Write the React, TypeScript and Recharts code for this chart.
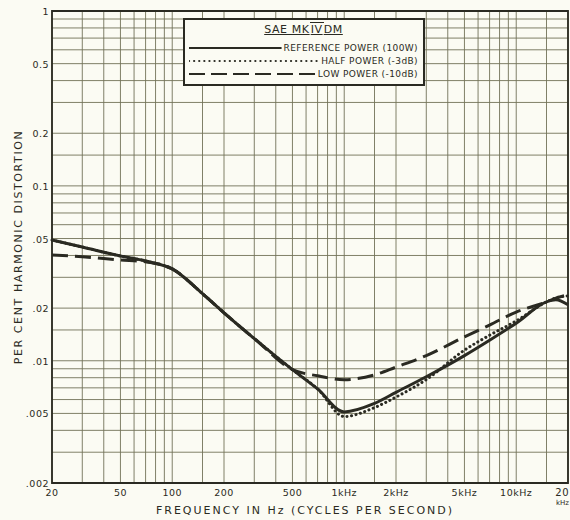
import {
  CartesianGrid,
  Label,
  Line,
  LineChart,
  ReferenceArea,
  XAxis,
  YAxis,
} from 'recharts'

const frequencies = [20, 30, 50, 70, 100, 150, 200, 300, 500, 700, 1000, 1500, 2000, 3000, 5000, 7000, 10000, 15000, 17000, 20000]

// Per cent THD, reference power (100W) - solid
const referencePower = [0.049, 0.0447, 0.0397, 0.0372, 0.0335, 0.0242, 0.0188, 0.0134, 0.0089, 0.0069, 0.0051, 0.0057, 0.0066, 0.0081, 0.0107, 0.0131, 0.0164, 0.0217, 0.0223, 0.0209]
// half power (-3dB) - dotted
const halfPower = [0.049, 0.0447, 0.0397, 0.0372, 0.0335, 0.0242, 0.0188, 0.0134, 0.0089, 0.0069, 0.0048, 0.0054, 0.0062, 0.0078, 0.0115, 0.014, 0.0169, 0.0217, 0.0229, 0.0235]
// low power (-10dB) - dashed
const lowPower = [0.0403, 0.0393, 0.0377, 0.0368, 0.0335, 0.0242, 0.0188, 0.0134, 0.0089, 0.0082, 0.0078, 0.0083, 0.0092, 0.0107, 0.0137, 0.016, 0.019, 0.0217, 0.0228, 0.0238]

// log paper rulings inside each decade
const gridMantissas = [1, 1.5, 2, 3, 4, 5, 6, 7, 8, 9]

const xLabelValues = [20, 50, 100, 200, 500, 1000, 2000, 5000, 10000, 20000]
const xLabelTexts = ['20', '50', '100', '200', '500', '1kHz', '2kHz', '5kHz', '10kHz', '20']

const yLabelValues = [1, 0.5, 0.2, 0.1, 0.05, 0.02, 0.01, 0.005, 0.002]
const yLabelTexts = ['1', '0.5', '0.2', '0.1', '.05', '.02', '.01', '.005', '.002']

const INK = '#2a2a22'
const GRID = '#727258'
const PAPER = '#fbfbf3'
const FONT = '"DejaVu Sans", sans-serif'

function rulings(lo: number, hi: number): number[] {
  const out: number[] = []
  for (let e = Math.floor(Math.log10(lo)); e <= Math.ceil(Math.log10(hi)); e++) {
    for (const m of gridMantissas) {
      const v = +(m * Math.pow(10, e)).toPrecision(6)
      if (v >= lo * 0.9999 && v <= hi * 1.0001) out.push(v)
    }
  }
  return out
}

const xGridTicks = rulings(20, 20000)
const yGridTicks = rulings(0.002, 1)

const data = frequencies.map((f, i) => ({
  f,
  ref: referencePower[i],
  half: halfPower[i],
  low: lowPower[i],
}))

const near = (a: number, b: number) => Math.abs(a - b) / b < 1e-4

function XTick(props: any) {
  const { x, y, payload } = props
  const i = xLabelValues.findIndex((v) => near(payload.value, v))
  if (i < 0) return <g />
  if (i === xLabelValues.length - 1) {
    return (
      <g fill={INK} fontFamily={FONT}>
        <text x={569} y={y + 13} textAnchor="end" fontSize={10} letterSpacing={0.5}>
          {xLabelTexts[i]}
        </text>
        <text x={569} y={y + 22} textAnchor="end" fontSize={7}>
          kHz
        </text>
      </g>
    )
  }
  return (
    <text x={x} y={y + 13} textAnchor="middle" fill={INK} fontFamily={FONT} fontSize={9.5} letterSpacing={0.5}>
      {xLabelTexts[i]}
    </text>
  )
}

function YTick(props: any) {
  const { x, y, payload } = props
  const i = yLabelValues.findIndex((v) => near(payload.value, v))
  if (i < 0) return <g />
  return (
    <text x={x} y={y} dy={4} textAnchor="end" fill={INK} fontFamily={FONT} fontSize={9.5} letterSpacing={0.5}>
      {yLabelTexts[i]}
    </text>
  )
}

function LegendRow({ dash, text }: { dash?: string; text: string }) {
  return (
    <div style={{ display: 'flex', alignItems: 'center', height: 13 }}>
      <svg style={{ flex: 1, height: 6 }}>
        <line
          x1={0}
          y1={3}
          x2="100%"
          y2={3}
          stroke={INK}
          strokeWidth={dash === 'dot' ? 2.2 : 2}
          strokeDasharray={dash === 'dot' ? '0.1 5' : dash}
          strokeLinecap={dash === 'dot' ? 'round' : 'butt'}
        />
      </svg>
      <span style={{ marginLeft: 2, fontSize: 9, letterSpacing: 0.4, whiteSpace: 'nowrap' }}>{text}</span>
    </div>
  )
}

export default function App() {
  return (
    <div
      style={{
        position: 'absolute',
        left: 0,
        top: 0,
        width: 570,
        height: 520,
        background: PAPER,
        fontFamily: FONT,
        color: INK,
      }}
    >
      <LineChart width={570} height={520} data={data} margin={{ top: 11, right: 2, bottom: 0, left: 0 }}>
        <CartesianGrid stroke={GRID} strokeWidth={0.9} />
        <XAxis
          dataKey="f"
          type="number"
          scale="log"
          domain={[20, 20000]}
          ticks={xGridTicks}
          interval={0}
          height={37}
          tickSize={0}
          tickMargin={0}
          axisLine={false}
          tick={<XTick />}
        >
          <Label
            content={() => (
              <text x={305} y={514} textAnchor="middle" fill={INK} fontFamily={FONT} fontSize={11} letterSpacing={2}>
                FREQUENCY IN Hz (CYCLES PER SECOND)
              </text>
            )}
          />
        </XAxis>
        <YAxis
          type="number"
          scale="log"
          domain={[0.002, 1]}
          ticks={yGridTicks}
          interval={0}
          width={52}
          tickSize={0}
          tickMargin={3}
          axisLine={false}
          tick={<YTick />}
        >
          <Label
            content={() => (
              <text
                x={0}
                y={0}
                transform="translate(22 247) rotate(-90)"
                textAnchor="middle"
                fill={INK}
                fontFamily={FONT}
                fontSize={11}
                letterSpacing={1.6}
              >
                PER CENT HARMONIC DISTORTION
              </text>
            )}
          />
        </YAxis>
        <ReferenceArea
          x1={20}
          x2={20000}
          y1={0.002}
          y2={1}
          fill="none"
          stroke={INK}
          strokeWidth={1.8}
          ifOverflow="visible"
        />
        <Line
          type="monotone"
          dataKey="half"
          stroke={INK}
          strokeWidth={3}
          strokeDasharray="0.1 4.5"
          strokeLinecap="round"
          dot={false}
          isAnimationActive={false}
        />
        <Line
          type="monotone"
          dataKey="low"
          stroke={INK}
          strokeWidth={3}
          strokeDasharray="16 7"
          dot={false}
          isAnimationActive={false}
        />
        <Line
          type="monotone"
          dataKey="ref"
          stroke={INK}
          strokeWidth={3}
          dot={false}
          isAnimationActive={false}
        />
      </LineChart>

      <div
        style={{
          position: 'absolute',
          left: 183,
          top: 18,
          width: 242,
          height: 68,
          boxSizing: 'border-box',
          border: `2px solid ${INK}`,
          background: PAPER,
          padding: '3px 5px 0 4px',
        }}
      >
        <div style={{ textAlign: 'center', fontSize: 11, letterSpacing: 0.6, marginBottom: 5 }}>
          <span style={{ textDecoration: 'underline' }}>
            SAE MK<span style={{ borderTop: `1.5px solid ${INK}`, padding: '0 1px' }}>IV</span>DM
          </span>
        </div>
        <LegendRow text="REFERENCE POWER (100W)" />
        <LegendRow dash="dot" text="HALF POWER (-3dB)" />
        <LegendRow dash="16 6" text="LOW POWER (-10dB)" />
      </div>
    </div>
  )
}
